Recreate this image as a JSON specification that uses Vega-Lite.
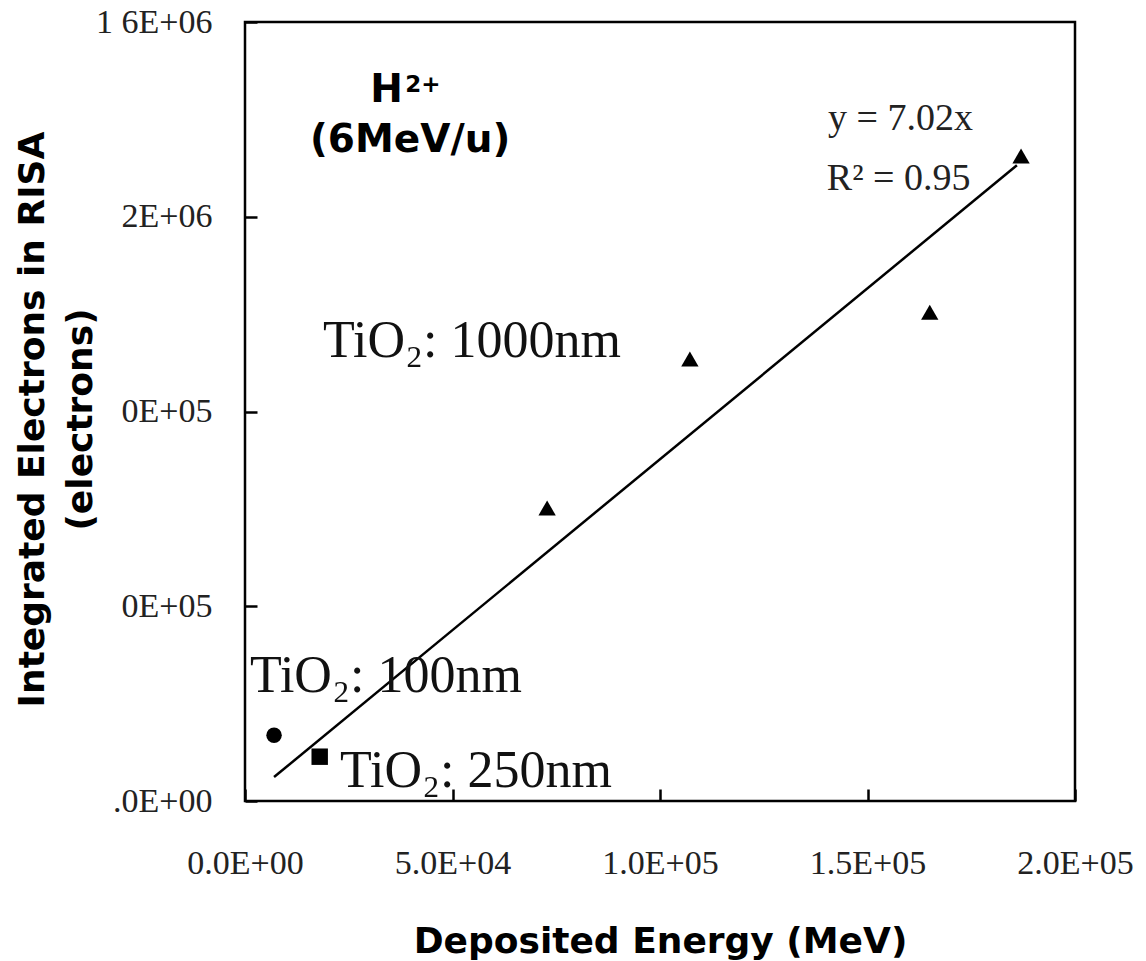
{
  "$schema": "https://vega.github.io/schema/vega-lite/v6.json",
  "width": 830,
  "height": 779,
  "autosize": {"type": "none"},
  "padding": {"left": 245, "top": 22, "right": 71, "bottom": 160},
  "background": "white",
  "config": {
    "view": {"stroke": "black", "strokeWidth": 2.5},
    "axis": {
      "domain": false,
      "grid": false,
      "ticks": true,
      "tickColor": "black",
      "tickWidth": 2.5,
      "tickSize": -12,
      "labelFont": "Liberation Serif",
      "labelFontSize": 34,
      "labelColor": "#222222",
      "labelOverlap": false,
      "labelBound": false,
      "labelFlush": false,
      "titleFont": "DejaVu Sans",
      "titleFontWeight": "bold",
      "titleFontSize": 36,
      "titleColor": "black"
    }
  },
  "datasets": {
    "points": [
      {"energy": 7000, "electrons": 135000, "film": "TiO2 100nm"},
      {"energy": 18000, "electrons": 91000, "film": "TiO2 250nm"},
      {"energy": 72800, "electrons": 602000, "film": "TiO2 1000nm"},
      {"energy": 107200, "electrons": 908000, "film": "TiO2 1000nm"},
      {"energy": 165000, "electrons": 1004000, "film": "TiO2 1000nm"},
      {"energy": 187000, "electrons": 1325000, "film": "TiO2 1000nm"}
    ],
    "fit": [
      {"energy": 7000, "electrons": 49140},
      {"energy": 186000, "electrons": 1305720}
    ],
    "filmLabels": [
      {"energy": 18800, "electrons": 911900, "label": "TiO₂: 1000nm"},
      {"energy": 1200, "electrons": 223900, "label": "TiO₂: 100nm"},
      {"energy": 22900, "electrons": 28750, "label": "TiO₂: 250nm"}
    ],
    "fitLabels": [
      {"energy": 140500, "electrons": 1378200, "label": "y = 7.02x"},
      {"energy": 140200, "electrons": 1254900, "label": "R² = 0.95"}
    ],
    "ionLabels": [
      {"energy": 39800, "electrons": 1333000, "label": "(6MeV/u)"}
    ],
    "ionBase": [
      {"energy": 38070, "electrons": 1435700, "label": "H"}
    ],
    "ionCharge": [
      {"energy": 38600, "electrons": 1456200, "label": "2+"}
    ]
  },
  "layer": [
    {
      "data": {"name": "fit"},
      "mark": {"type": "line", "color": "black", "strokeWidth": 2.5},
      "encoding": {
        "x": {
          "field": "energy",
          "type": "quantitative",
          "scale": {"domain": [0, 200000], "nice": false, "zero": true},
          "axis": {
            "title": "Deposited Energy (MeV)",
            "values": [0, 50000, 100000, 150000, 200000],
            "labelExpr": "datum.value == 0 ? '0.0E+00' : datum.value == 50000 ? '5.0E+04' : datum.value == 100000 ? '1.0E+05' : datum.value == 150000 ? '1.5E+05' : '2.0E+05'",
            "labelPadding": 57,
            "titleBaseline": "alphabetic",
            "titleY": 151
          }
        },
        "y": {
          "field": "electrons",
          "type": "quantitative",
          "scale": {"domain": [0, 1600000], "nice": false, "zero": true},
          "axis": {
            "title": ["Integrated Electrons in RISA", "(electrons)"],
            "values": [0, 400000, 800000, 1200000, 1600000],
            "labelExpr": "datum.value == 0 ? '.0E+00' : datum.value == 400000 ? '0E+05' : datum.value == 800000 ? '0E+05' : datum.value == 1200000 ? '2E+06' : '1 6E+06'",
            "labelPadding": 45,
            "titleBaseline": "alphabetic",
            "titleLineHeight": 48,
            "titleX": -202,
            "titleY": 397
          }
        }
      }
    },
    {
      "data": {"name": "points"},
      "mark": {"type": "point", "filled": true, "color": "black", "opacity": 1, "strokeWidth": 0},
      "encoding": {
        "x": {"field": "energy", "type": "quantitative"},
        "y": {"field": "electrons", "type": "quantitative"},
        "shape": {
          "field": "film",
          "type": "nominal",
          "scale": {"domain": ["TiO2 100nm", "TiO2 250nm", "TiO2 1000nm"], "range": ["circle", "square", "triangle-up"]},
          "legend": null
        },
        "size": {
          "field": "film",
          "type": "nominal",
          "scale": {"domain": ["TiO2 100nm", "TiO2 250nm", "TiO2 1000nm"], "range": [240, 300, 430]},
          "legend": null
        }
      }
    },
    {
      "data": {"name": "filmLabels"},
      "mark": {"type": "text", "font": "Liberation Serif", "fontSize": 52, "align": "left", "baseline": "alphabetic", "color": "#111111"},
      "encoding": {
        "x": {"field": "energy", "type": "quantitative"},
        "y": {"field": "electrons", "type": "quantitative"},
        "text": {"field": "label"}
      }
    },
    {
      "data": {"name": "fitLabels"},
      "mark": {"type": "text", "font": "Liberation Serif", "fontSize": 38, "align": "left", "baseline": "alphabetic", "color": "#222222"},
      "encoding": {
        "x": {"field": "energy", "type": "quantitative"},
        "y": {"field": "electrons", "type": "quantitative"},
        "text": {"field": "label"}
      }
    },
    {
      "data": {"name": "ionLabels"},
      "mark": {"type": "text", "font": "DejaVu Sans", "fontWeight": "bold", "fontSize": 39, "align": "center", "baseline": "alphabetic", "color": "black"},
      "encoding": {
        "x": {"field": "energy", "type": "quantitative"},
        "y": {"field": "electrons", "type": "quantitative"},
        "text": {"field": "label"}
      }
    },
    {
      "data": {"name": "ionBase"},
      "mark": {"type": "text", "font": "DejaVu Sans", "fontWeight": "bold", "fontSize": 39, "align": "right", "baseline": "alphabetic", "color": "black"},
      "encoding": {
        "x": {"field": "energy", "type": "quantitative"},
        "y": {"field": "electrons", "type": "quantitative"},
        "text": {"field": "label"}
      }
    },
    {
      "data": {"name": "ionCharge"},
      "mark": {"type": "text", "font": "DejaVu Sans", "fontWeight": "bold", "fontSize": 23, "align": "left", "baseline": "alphabetic", "color": "black"},
      "encoding": {
        "x": {"field": "energy", "type": "quantitative"},
        "y": {"field": "electrons", "type": "quantitative"},
        "text": {"field": "label"}
      }
    }
  ]
}
